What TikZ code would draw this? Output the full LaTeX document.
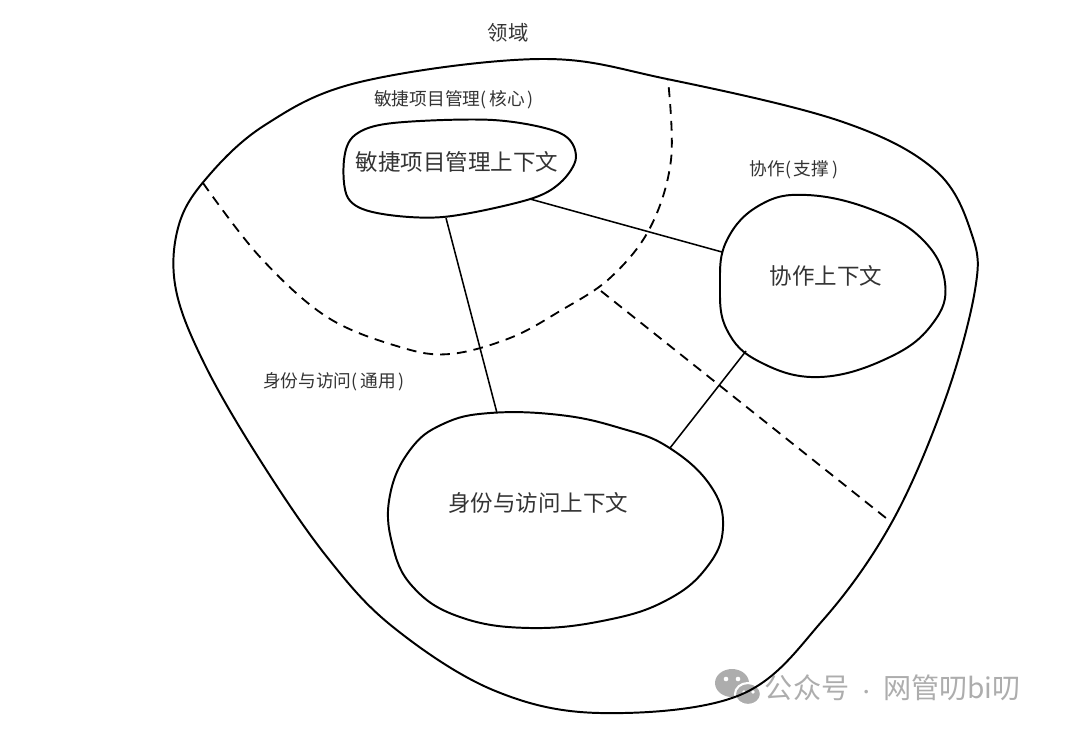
\documentclass[tikz,border=0pt]{standalone}
\usepackage{fontspec}
\setmainfont{Noto Sans CJK SC}

\begin{document}
\begin{tikzpicture}[x=0.025cm, y=-0.025cm,
    rim/.style={line width=1.4pt},
    bound/.style={line width=1.3pt, dash pattern=on 7pt off 5pt},
    link/.style={line width=1.1pt},
    area/.style={text=black!80, font=\fontsize{12.6}{14}\selectfont},
    ctx/.style={text=black!80, font=\fontsize{16}{18}\selectfont},
    wmark/.style={text=black!32, font=\fontsize{20}{22}\selectfont}]
  \useasboundingbox (0,0) rectangle (1080,732);
  % watermark
  \fill[black!32] (732,683) ellipse (17 and 14);
  \fill[black!32, draw=white, line width=1.5pt] (748,694) ellipse (13 and 11);
  \fill[white] (726,679) circle (2.3) (738,679) circle (2.3)
    (744,692) circle (1.8) (753,692) circle (1.8);
  \node[wmark, anchor=west] (wm) at (760,688) {公众号\hspace{6pt}{\fontsize{12}{14}\selectfont ·}\hspace{6pt}网管叨bi叨};
  % domain
  \draw[rim] plot[smooth cycle, tension=0.6] coordinates {(540,59) (667,79)
    (840,121) (935,170) (972,235) (975,290) (945,400) (892,522) (823,620)
    (740,695) (600,713) (493,690) (393,627) (327,557) (260,460) (205,365)
    (176,290) (178,228) (205,180) (265,125) (360,82)};
  \node[ctx, font=\fontsize{14.5}{16}\selectfont] (dom) at (508,33) {领域};
  % subdomains
  \draw[bound] plot[smooth, tension=0.6] coordinates {(203,183) (260,257)
    (327,317) (400,347) (450,354) (510,338) (560,311) (610,278) (650,228)
    (671,160) (668,80)};
  \coordinate (sp) at (601,291);
  \coordinate (se) at (891,522);
  \draw[bound] (sp) -- (se);
  \node[area] (core) at (454,100) {敏捷项目管理(\,核心\,)};
  \node[area] (supp) at (794,170) {协作(\,支撑\,)};
  \node[area] (gen) at (334,382) {身份与访问(\,通用\,)};
  % contexts
  \draw[rim] plot[smooth cycle, tension=0.55] coordinates {(344,160) (355,135)
    (393,123) (493,120) (560,133) (576,157) (560,183) (527,200) (443,217)
    (377,213) (348,198)};
  \draw[rim] plot[smooth cycle, tension=0.7] coordinates {(727,240) (760,205)
    (807,195) (873,210) (923,240) (945,283) (933,323) (890,357) (820,377)
    (760,362) (727,330) (720,285)};
  \draw[rim] plot[smooth cycle, tension=0.7] coordinates {(443,424) (490,413)
    (560,415) (620,428) (668,447) (710,485) (723,527) (707,567) (667,600)
    (607,620) (530,628) (460,617) (413,587) (392,543) (390,495) (410,450)};
  \node[ctx] (apm) at (457,162) {敏捷项目管理上下文};
  \node[ctx] (col) at (826,276) {协作上下文};
  \node[ctx] (iam) at (538,503) {身份与访问上下文};
  % relations
  \coordinate (apm-s) at (446,218);
  \coordinate (apm-e) at (530,199);
  \coordinate (col-w) at (722,252);
  \coordinate (col-s) at (746,351);
  \coordinate (iam-n) at (497,413);
  \coordinate (iam-ne) at (670,448);
  \draw[link] (apm-s) -- (iam-n);
  \draw[link] (apm-e) -- (col-w);
  \draw[link] (col-s) -- (iam-ne);
\end{tikzpicture}
\end{document}
